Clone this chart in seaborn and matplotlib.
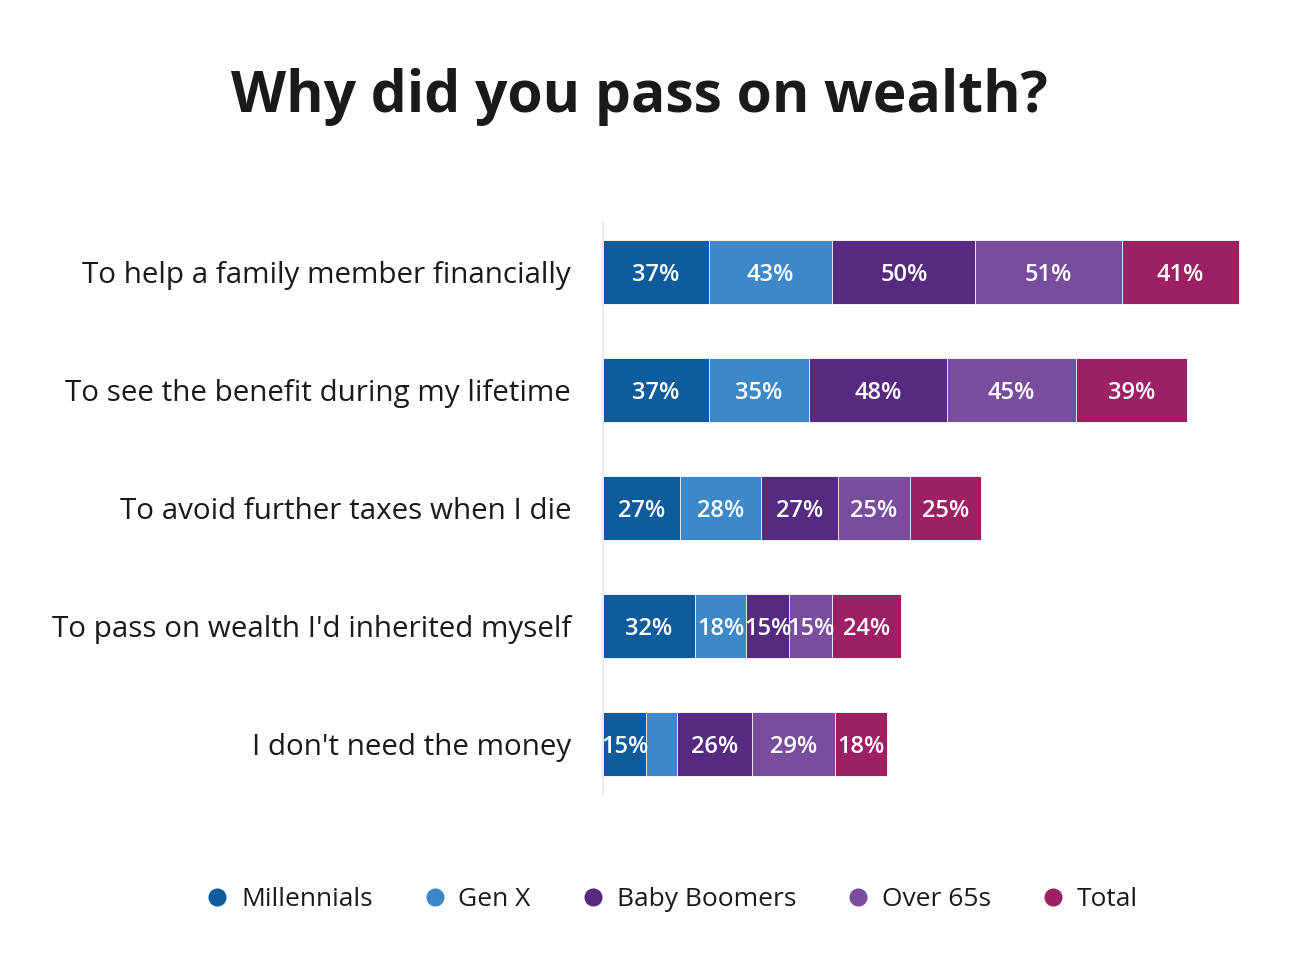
import numpy as np
import pandas as pd
import seaborn as sns
import matplotlib.pyplot as plt
from matplotlib.lines import Line2D

sns.set_theme(style="white")
plt.rcParams['font.family'] = ['Open Sans', 'DejaVu Sans']

reasons = ["To help a family member financially",
           "To see the benefit during my lifetime",
           "To avoid further taxes when I die",
           "To pass on wealth I'd inherited myself",
           "I don't need the money"]
series = ["Millennials", "Gen X", "Baby Boomers", "Over 65s", "Total"]
millennials = [37, 37, 27, 32, 15]
gen_x = [43, 35, 28, 18, 11]
baby_boomers = [50, 48, 27, 15, 26]
over_65s = [51, 45, 25, 15, 29]
total = [41, 39, 25, 24, 18]
colors = ["#0e5c9e", "#3d88c8", "#552a80", "#794d9e", "#9c2063"]

values = np.array([millennials, gen_x, baby_boomers, over_65s, total], dtype=float)
cum = np.cumsum(values, axis=0)

df = pd.DataFrame({"reason": reasons})
for i, s in enumerate(series):
    df[s] = cum[i]

fig = plt.figure(figsize=(13, 9.76), dpi=100)
ax = fig.add_axes([603/1300, 1-795/976, (1260-603)/1300, (795-222)/976])

for i in range(len(series)-1, -1, -1):
    sns.barplot(data=df, y="reason", x=series[i], color=colors[i], orient="h",
                width=0.54, edgecolor="#ffffff", linewidth=0.6, ax=ax,
                saturation=1)

for i in range(len(series)):
    for j in range(len(reasons)):
        v = values[i, j]
        if v < 12:
            continue
        center = cum[i, j] - v / 2
        ax.text(center, j, f"{int(v)}%", ha="center", va="center_baseline",
                color="white", fontsize=17, fontweight="semibold")

ax.set_xlim(0, 657/2.865)
ax.set_ylim(4.43, -0.424)
ax.set_xlabel("")
ax.set_ylabel("")
ax.set_xticks([])
for sp in ["top", "right", "bottom"]:
    ax.spines[sp].set_visible(False)
ax.spines["left"].set_color("#e8e8e8")
ax.spines["left"].set_linewidth(1.2)
ax.tick_params(axis="y", length=0, pad=23, labelsize=21.3, labelcolor="#1a1a1a")

fig.text(0.492, 1-97/976, "Why did you pass on wealth?", ha="center", va="center",
         fontsize=41, fontweight="bold", color="#1a1a1a")

handles = [Line2D([0], [0], marker="o", linestyle="", markersize=12,
                  markerfacecolor=c, markeredgecolor=c) for c in colors]
fig.legend(handles, series, loc="center", bbox_to_anchor=(0.516, 1-900/976),
           ncol=5, frameon=False, fontsize=19, handletextpad=0.4, handlelength=1.0,
           columnspacing=1.85, labelcolor="#1a1a1a")

fig.savefig("out.png", dpi=100, facecolor="white")
